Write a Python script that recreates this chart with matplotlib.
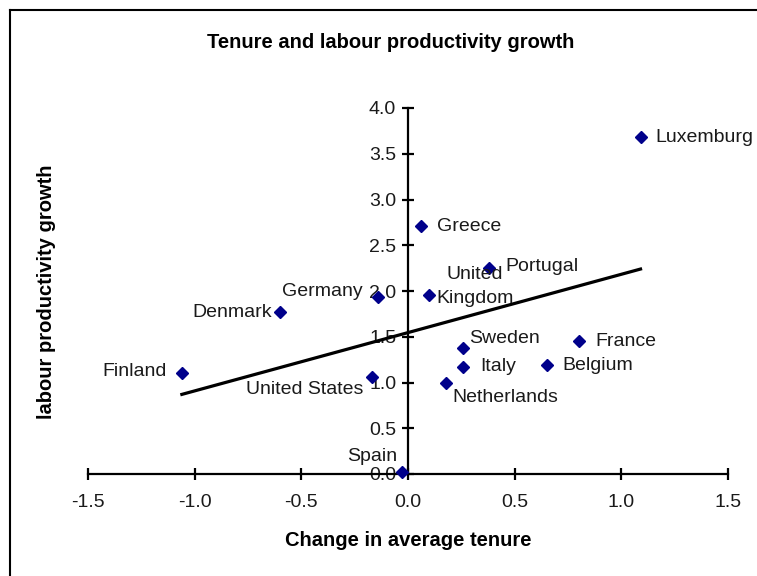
import matplotlib
matplotlib.use("Agg")
import matplotlib.pyplot as plt
from matplotlib.lines import Line2D

plt.rcParams['font.family'] = ['Liberation Sans', 'DejaVu Sans']

# data
countries = ["Luxemburg", "Greece", "Portugal", "United\nKingdom", "Germany", "Denmark",
             "Finland", "United States", "Spain", "Sweden", "Italy", "Netherlands",
             "Belgium", "France"]
tenure_change = [1.09, 0.06, 0.38, 0.10, -0.14, -0.60, -1.06, -0.17, -0.03, 0.26, 0.26, 0.18, 0.65, 0.80]
prod_growth = [3.68, 2.71, 2.25, 1.96, 1.93, 1.77, 1.10, 1.06, 0.02, 1.38, 1.17, 1.00, 1.19, 1.45]

# fitted trend line end points
trend_x = [-1.06, 1.09]
trend_y = [0.87, 2.24]

# label offsets (points) and alignment
label_pos = {
    "Luxemburg": (11, 0, "left", "center"),
    "Greece": (12, 0, "left", "center"),
    "Portugal": (12, 1, "left", "center"),
    "United\nKingdom": (33, 6, "center", "center"),
    "Germany": (-11, 4, "right", "center"),
    "Denmark": (-6, 0, "right", "center"),
    "Finland": (-11, 1, "right", "center"),
    "United States": (-6, -9, "right", "center"),
    "Spain": (-3, 11, "right", "center"),
    "Sweden": (4, 7, "left", "center"),
    "Italy": (12, 0, "left", "center"),
    "Netherlands": (4, -11, "left", "center"),
    "Belgium": (11, 0, "left", "center"),
    "France": (12, 0, "left", "center"),
}

fig = plt.figure(figsize=(7.57, 5.76), dpi=100)
ax = fig.add_axes([88 / 757, 1 - 474 / 576, 640 / 757, 366 / 576])

ax.plot(trend_x, trend_y, color="black", lw=2.3, zorder=2)
ax.plot(tenure_change, prod_growth, linestyle="none", marker="D", ms=6.5,
        color="#00008B", zorder=3, clip_on=False)

for name, x, y in zip(countries, tenure_change, prod_growth):
    dx, dy, ha, va = label_pos[name]
    ax.annotate(name, (x, y), xytext=(dx, dy), textcoords="offset points",
                ha=ha, va=va, fontsize=14, color="#1a1a1a",
                multialignment="center", linespacing=1.5, zorder=4)

ax.set_xlim(-1.5, 1.5)
ax.set_ylim(0, 4.0)
ax.set_xticks([-1.5, -1.0, -0.5, 0.0, 0.5, 1.0, 1.5])
ax.set_yticks([0.0, 0.5, 1.0, 1.5, 2.0, 2.5, 3.0, 3.5, 4.0])
ax.xaxis.set_major_formatter(matplotlib.ticker.FormatStrFormatter("%.1f"))
ax.yaxis.set_major_formatter(matplotlib.ticker.FormatStrFormatter("%.1f"))

ax.spines["left"].set_position(("data", 0))
ax.spines["bottom"].set_position(("data", 0))
ax.spines["right"].set_visible(False)
ax.spines["top"].set_visible(False)
for s in ["left", "bottom"]:
    ax.spines[s].set_linewidth(1.6)
ax.tick_params(direction="inout", length=9, width=1.6, labelsize=14,
               labelcolor="#1a1a1a")
ax.tick_params(axis="x", pad=10)
ax.tick_params(axis="y", pad=4)

fig.text(391 / 757, 1 - 42 / 576, "Tenure and labour productivity growth",
         ha="center", va="center", fontsize=14.5, fontweight="bold")
fig.text(408 / 757, 1 - 540 / 576, "Change in average tenure",
         ha="center", va="center", fontsize=14.5, fontweight="bold")
fig.text(47 / 757, 1 - 292 / 576, "labour productivity growth", rotation=90,
         ha="center", va="center", fontsize=14.5, fontweight="bold")

# frame around the chart (only left and top show in the crop)
fig.add_artist(Line2D([10 / 757, 10 / 757], [0, 1 - 10 / 576], transform=fig.transFigure,
                      color="black", lw=1.5))
fig.add_artist(Line2D([10 / 757, 1], [1 - 10 / 576, 1 - 10 / 576], transform=fig.transFigure,
                      color="black", lw=1.5))

fig.savefig("out.png", dpi=100)
